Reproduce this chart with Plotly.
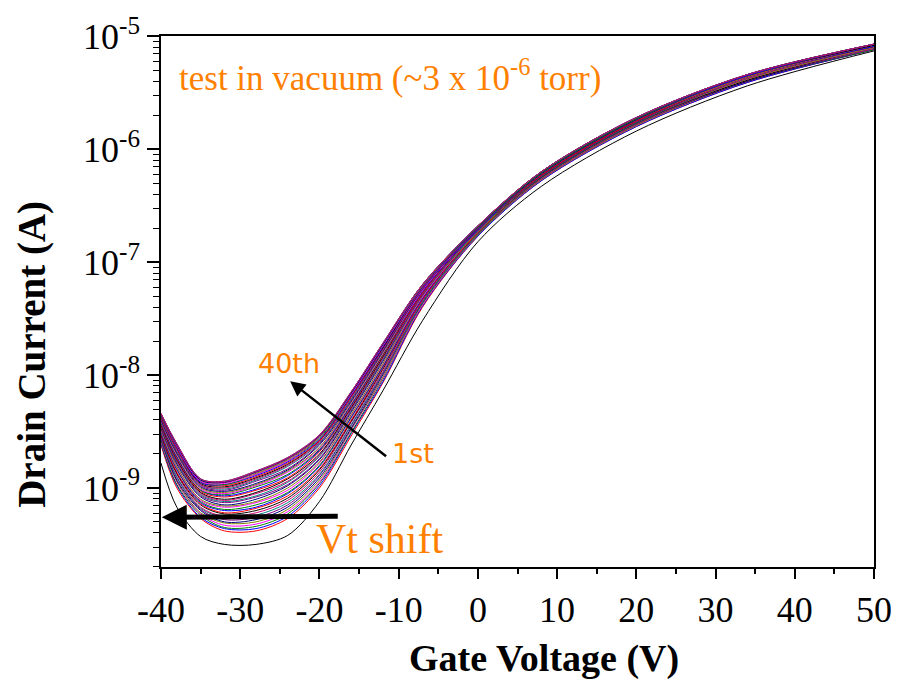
import numpy as np
import plotly.graph_objects as go

# Gate voltage sampling points (V)
gate_voltage = [-40, -38, -35, -32, -28, -24, -20, -16, -12, -7, 0, 8, 20, 34, 50]

# log10 of drain current (A), one list per consecutive sweep (1st ... 40th)
sweep_01 = [-8.78, -9.17, -9.43, -9.50, -9.50, -9.42, -9.12, -8.62, -8.14, -7.52, -6.82, -6.33, -5.84, -5.44, -5.13]
sweep_02 = [-8.62, -9.00, -9.27, -9.38, -9.38, -9.27, -9.00, -8.54, -8.07, -7.40, -6.77, -6.28, -5.80, -5.41, -5.12]
sweep_03 = [-8.61, -8.98, -9.26, -9.36, -9.36, -9.25, -8.98, -8.52, -8.06, -7.39, -6.77, -6.28, -5.80, -5.41, -5.12]
sweep_04 = [-8.60, -8.97, -9.24, -9.35, -9.34, -9.23, -8.96, -8.51, -8.04, -7.38, -6.76, -6.27, -5.79, -5.40, -5.12]
sweep_05 = [-8.59, -8.95, -9.23, -9.33, -9.32, -9.21, -8.95, -8.49, -8.03, -7.38, -6.76, -6.27, -5.79, -5.40, -5.11]
sweep_06 = [-8.58, -8.94, -9.22, -9.31, -9.30, -9.19, -8.93, -8.48, -8.02, -7.37, -6.76, -6.27, -5.79, -5.40, -5.11]
sweep_07 = [-8.57, -8.93, -9.20, -9.30, -9.28, -9.17, -8.91, -8.47, -8.00, -7.36, -6.75, -6.26, -5.78, -5.40, -5.11]
sweep_08 = [-8.56, -8.91, -9.19, -9.28, -9.26, -9.15, -8.89, -8.45, -7.99, -7.35, -6.75, -6.26, -5.78, -5.39, -5.11]
sweep_09 = [-8.55, -8.90, -9.18, -9.26, -9.24, -9.13, -8.88, -8.44, -7.98, -7.35, -6.75, -6.26, -5.78, -5.39, -5.11]
sweep_10 = [-8.54, -8.88, -9.17, -9.25, -9.22, -9.11, -8.86, -8.42, -7.97, -7.34, -6.74, -6.26, -5.78, -5.39, -5.11]
sweep_11 = [-8.53, -8.87, -9.15, -9.23, -9.20, -9.09, -8.84, -8.41, -7.95, -7.33, -6.74, -6.25, -5.77, -5.39, -5.10]
sweep_12 = [-8.52, -8.86, -9.14, -9.22, -9.18, -9.07, -8.83, -8.40, -7.94, -7.33, -6.74, -6.25, -5.77, -5.38, -5.10]
sweep_13 = [-8.51, -8.84, -9.13, -9.20, -9.17, -9.05, -8.81, -8.38, -7.93, -7.32, -6.73, -6.25, -5.77, -5.38, -5.10]
sweep_14 = [-8.50, -8.83, -9.12, -9.19, -9.15, -9.04, -8.80, -8.37, -7.92, -7.31, -6.73, -6.25, -5.77, -5.38, -5.10]
sweep_15 = [-8.49, -8.82, -9.11, -9.17, -9.13, -9.02, -8.78, -8.36, -7.91, -7.31, -6.73, -6.24, -5.76, -5.38, -5.10]
sweep_16 = [-8.48, -8.81, -9.10, -9.16, -9.12, -9.00, -8.77, -8.35, -7.90, -7.30, -6.73, -6.24, -5.76, -5.38, -5.10]
sweep_17 = [-8.47, -8.79, -9.08, -9.15, -9.10, -8.98, -8.75, -8.33, -7.88, -7.29, -6.72, -6.24, -5.76, -5.37, -5.09]
sweep_18 = [-8.46, -8.78, -9.07, -9.13, -9.08, -8.97, -8.74, -8.32, -7.87, -7.29, -6.72, -6.24, -5.76, -5.37, -5.09]
sweep_19 = [-8.45, -8.77, -9.06, -9.12, -9.07, -8.95, -8.72, -8.31, -7.86, -7.28, -6.72, -6.23, -5.75, -5.37, -5.09]
sweep_20 = [-8.45, -8.76, -9.05, -9.11, -9.05, -8.94, -8.71, -8.30, -7.85, -7.28, -6.71, -6.23, -5.75, -5.37, -5.09]
sweep_21 = [-8.44, -8.75, -9.04, -9.10, -9.04, -8.92, -8.70, -8.29, -7.84, -7.27, -6.71, -6.23, -5.75, -5.36, -5.09]
sweep_22 = [-8.43, -8.74, -9.03, -9.08, -9.02, -8.91, -8.68, -8.28, -7.83, -7.27, -6.71, -6.23, -5.75, -5.36, -5.09]
sweep_23 = [-8.42, -8.73, -9.02, -9.07, -9.01, -8.89, -8.67, -8.27, -7.82, -7.26, -6.71, -6.22, -5.74, -5.36, -5.09]
sweep_24 = [-8.42, -8.72, -9.02, -9.06, -8.99, -8.88, -8.66, -8.26, -7.82, -7.25, -6.70, -6.22, -5.74, -5.36, -5.08]
sweep_25 = [-8.41, -8.71, -9.01, -9.05, -8.98, -8.86, -8.65, -8.25, -7.81, -7.25, -6.70, -6.22, -5.74, -5.36, -5.08]
sweep_26 = [-8.40, -8.70, -9.00, -9.04, -8.97, -8.85, -8.64, -8.24, -7.80, -7.24, -6.70, -6.22, -5.74, -5.36, -5.08]
sweep_27 = [-8.40, -8.69, -8.99, -9.03, -8.96, -8.84, -8.62, -8.23, -7.79, -7.24, -6.70, -6.22, -5.74, -5.35, -5.08]
sweep_28 = [-8.39, -8.68, -8.98, -9.02, -8.94, -8.83, -8.61, -8.22, -7.78, -7.24, -6.70, -6.21, -5.73, -5.35, -5.08]
sweep_29 = [-8.38, -8.67, -8.97, -9.01, -8.93, -8.81, -8.60, -8.21, -7.77, -7.23, -6.69, -6.21, -5.73, -5.35, -5.08]
sweep_30 = [-8.38, -8.66, -8.97, -9.00, -8.92, -8.80, -8.59, -8.20, -7.77, -7.23, -6.69, -6.21, -5.73, -5.35, -5.08]
sweep_31 = [-8.37, -8.65, -8.96, -8.99, -8.91, -8.79, -8.58, -8.19, -7.76, -7.22, -6.69, -6.21, -5.73, -5.35, -5.08]
sweep_32 = [-8.37, -8.65, -8.95, -8.98, -8.90, -8.78, -8.58, -8.19, -7.75, -7.22, -6.69, -6.21, -5.73, -5.35, -5.07]
sweep_33 = [-8.36, -8.64, -8.95, -8.97, -8.89, -8.77, -8.57, -8.18, -7.75, -7.22, -6.69, -6.21, -5.73, -5.35, -5.07]
sweep_34 = [-8.36, -8.63, -8.94, -8.97, -8.88, -8.76, -8.56, -8.17, -7.74, -7.21, -6.69, -6.21, -5.73, -5.34, -5.07]
sweep_35 = [-8.35, -8.63, -8.94, -8.96, -8.88, -8.76, -8.55, -8.17, -7.74, -7.21, -6.68, -6.20, -5.72, -5.34, -5.07]
sweep_36 = [-8.35, -8.62, -8.93, -8.95, -8.87, -8.75, -8.55, -8.16, -7.73, -7.21, -6.68, -6.20, -5.72, -5.34, -5.07]
sweep_37 = [-8.35, -8.62, -8.93, -8.95, -8.86, -8.74, -8.54, -8.16, -7.73, -7.20, -6.68, -6.20, -5.72, -5.34, -5.07]
sweep_38 = [-8.34, -8.61, -8.92, -8.95, -8.86, -8.74, -8.54, -8.15, -7.72, -7.20, -6.68, -6.20, -5.72, -5.34, -5.07]
sweep_39 = [-8.34, -8.61, -8.92, -8.94, -8.85, -8.73, -8.53, -8.15, -7.72, -7.20, -6.68, -6.20, -5.72, -5.34, -5.07]
sweep_40 = [-8.34, -8.61, -8.92, -8.94, -8.85, -8.73, -8.53, -8.15, -7.72, -7.20, -6.68, -6.20, -5.72, -5.34, -5.07]

sweeps = [
    sweep_01, sweep_02, sweep_03, sweep_04, sweep_05, sweep_06, sweep_07, sweep_08,
    sweep_09, sweep_10, sweep_11, sweep_12, sweep_13, sweep_14, sweep_15, sweep_16,
    sweep_17, sweep_18, sweep_19, sweep_20, sweep_21, sweep_22, sweep_23, sweep_24,
    sweep_25, sweep_26, sweep_27, sweep_28, sweep_29, sweep_30, sweep_31, sweep_32,
    sweep_33, sweep_34, sweep_35, sweep_36, sweep_37, sweep_38, sweep_39, sweep_40,
]

# Incremental line colours, cycled over the sweeps
line_colors = ["#000000", "#FF0000", "#0000FF", "#008000", "#FF00FF",
               "#808000", "#000080", "#800080", "#008080", "#D00070"]

x_tick_values = [-40, -30, -20, -10, 0, 10, 20, 30, 40, 50]
x_tick_labels = ["-40", "-30", "-20", "-10", "0", "10", "20", "30", "40", "50"]
x_minor_values = [-35, -25, -15, -5, 5, 15, 25, 35, 45]
y_tick_exponents = [-9, -8, -7, -6, -5]

ORANGE = "#FF7F00"
SERIF = "Liberation Serif"

fig = go.Figure()
for i, logs in enumerate(sweeps):
    fig.add_trace(go.Scatter(
        x=gate_voltage,
        y=np.power(10.0, np.array(logs)),
        mode="lines",
        line=dict(color=line_colors[i % len(line_colors)], width=1,
                  shape="spline", smoothing=0.9),
        name=f"sweep {i + 1}",
        showlegend=False,
        hoverinfo="skip",
    ))

y_minor = [k * 10.0 ** e for e in range(-10, -5) for k in range(2, 10)]

fig.update_layout(
    width=904, height=683,
    margin=dict(l=161, r=22, t=33, b=116),
    paper_bgcolor="white", plot_bgcolor="white",
    font=dict(family=SERIF, color="black"),
    xaxis=dict(
        range=[-40, 50], tickmode="array", tickvals=x_tick_values,
        ticktext=x_tick_labels,
        ticks="outside", ticklen=10, tickwidth=1.5, tickcolor="black",
        showline=True, linewidth=1.5, linecolor="black", mirror=True,
        showgrid=False, zeroline=False,
        tickfont=dict(family=SERIF, size=36, color="black"),
        minor=dict(tickmode="array", tickvals=x_minor_values, ticks="outside",
                   ticklen=5, tickwidth=1.5, tickcolor="black", showgrid=False),
    ),
    yaxis=dict(
        type="log", range=[-9.7, -4.998], tickmode="array",
        tickvals=[10.0 ** e for e in y_tick_exponents],
        ticktext=[f"10<sup>{e}</sup>" for e in y_tick_exponents],
        ticks="outside", ticklen=12, tickwidth=1.5, tickcolor="black",
        showline=True, linewidth=1.5, linecolor="black", mirror=True,
        showgrid=False, zeroline=False,
        tickfont=dict(family=SERIF, size=36, color="black"),
        minor=dict(tickmode="array", tickvals=y_minor, ticks="outside",
                   ticklen=6, tickwidth=1.2, tickcolor="black", showgrid=False),
    ),
)

# Axis titles
fig.add_annotation(text="<b>Gate Voltage (V)</b>", xref="paper", yref="paper",
                   x=0.537, y=-0.172, xanchor="center", yanchor="middle",
                   showarrow=False, font=dict(family=SERIF, size=38, color="black"))
fig.add_annotation(text="<b>Drain Current (A)</b>", xref="paper", yref="paper",
                   x=-0.182, y=0.400, xanchor="center", yanchor="middle",
                   textangle=-90, showarrow=False,
                   font=dict(family=SERIF, size=39, color="black"))

# Text labels
fig.add_annotation(text="test in vacuum (~3 x 10<sup>-6</sup> torr)",
                   xref="paper", yref="paper", x=0.022, y=0.925,
                   xanchor="left", yanchor="middle", showarrow=False,
                   font=dict(family=SERIF, size=35, color=ORANGE))
fig.add_annotation(text="40th", xref="paper", yref="paper", x=0.180, y=0.384,
                   xanchor="center", yanchor="middle", showarrow=False,
                   font=dict(family="DejaVu Sans", size=27, color=ORANGE))
fig.add_annotation(text="1st", xref="paper", yref="paper", x=0.354, y=0.213,
                   xanchor="center", yanchor="middle", showarrow=False,
                   font=dict(family="DejaVu Sans", size=27, color=ORANGE))
fig.add_annotation(text="Vt shift", xref="paper", yref="paper", x=0.307, y=0.052,
                   xanchor="center", yanchor="middle", showarrow=False,
                   font=dict(family=SERIF, size=42, color=ORANGE))

# Arrows: sweep progression and threshold-voltage shift
fig.add_annotation(x=-23.7, y=-8.055, ax=-11.4, ay=-8.73, xref="x", yref="y",
                   axref="x", ayref="y", text="", showarrow=True,
                   arrowhead=2, arrowsize=1.2, arrowwidth=2.5, arrowcolor="black",
                   standoff=0, startstandoff=0)
fig.add_annotation(x=-39.9, y=-9.26, ax=-17.5, ay=-9.25, xref="x", yref="y",
                   axref="x", ayref="y", text="", showarrow=True,
                   arrowhead=2, arrowsize=1.0, arrowwidth=5, arrowcolor="black",
                   standoff=0, startstandoff=0)

fig.write_html("out.html")
